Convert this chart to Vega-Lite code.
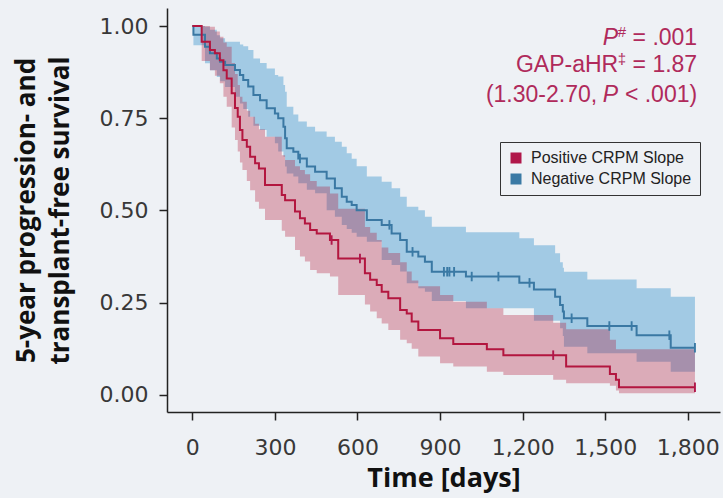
{
  "$schema": "https://vega.github.io/schema/vega-lite/v6.json",
  "width": 553,
  "height": 404,
  "autosize": {"type": "none"},
  "padding": {"left": 167, "top": 8, "right": 3, "bottom": 86},
  "background": "#eef1f5",
  "config": {
    "view": {"stroke": null},
    "axis": {
      "grid": false,
      "labelFont": "DejaVu Sans",
      "labelFontSize": 22,
      "labelColor": "#383838",
      "tickColor": "#222222",
      "tickWidth": 1.5,
      "tickSize": 8,
      "domainColor": "#222222",
      "domainWidth": 1.5,
      "titleFont": "Open Sans",
      "titleFontWeight": "bold",
      "titleFontSize": 26,
      "titleColor": "#111111"
    },
    "legend": {
      "orient": "none",
      "legendX": 333,
      "legendY": 134,
      "strokeColor": "#333333",
      "padding": 8,
      "symbolType": "square",
      "symbolSize": 121,
      "symbolStrokeWidth": 0,
      "symbolOpacity": 1,
      "labelFont": "Liberation Sans",
      "labelFontSize": 16,
      "labelColor": "#222222",
      "labelOffset": 7,
      "labelLimit": 300,
      "rowPadding": 5
    }
  },
  "datasets": {
    "km": [
      {"g": "pos", "day": 0, "s": 1.0, "lo": 1.0, "hi": 1.0},
      {"g": "pos", "day": 34, "s": 0.957, "lo": 0.905, "hi": 1.0},
      {"g": "pos", "day": 64, "s": 0.935, "lo": 0.88, "hi": 0.998},
      {"g": "pos", "day": 82, "s": 0.926, "lo": 0.865, "hi": 0.985},
      {"g": "pos", "day": 100, "s": 0.907, "lo": 0.845, "hi": 0.971},
      {"g": "pos", "day": 113, "s": 0.88, "lo": 0.808, "hi": 0.955},
      {"g": "pos", "day": 125, "s": 0.858, "lo": 0.781, "hi": 0.944},
      {"g": "pos", "day": 143, "s": 0.818, "lo": 0.725, "hi": 0.9},
      {"g": "pos", "day": 155, "s": 0.778, "lo": 0.691, "hi": 0.87},
      {"g": "pos", "day": 165, "s": 0.754, "lo": 0.66, "hi": 0.84},
      {"g": "pos", "day": 173, "s": 0.718, "lo": 0.63, "hi": 0.808},
      {"g": "pos", "day": 182, "s": 0.691, "lo": 0.61, "hi": 0.795},
      {"g": "pos", "day": 198, "s": 0.673, "lo": 0.58, "hi": 0.77},
      {"g": "pos", "day": 210, "s": 0.646, "lo": 0.555, "hi": 0.754},
      {"g": "pos", "day": 228, "s": 0.628, "lo": 0.524, "hi": 0.735},
      {"g": "pos", "day": 242, "s": 0.614, "lo": 0.505, "hi": 0.72},
      {"g": "pos", "day": 264, "s": 0.569, "lo": 0.474, "hi": 0.7},
      {"g": "pos", "day": 325, "s": 0.542, "lo": 0.445, "hi": 0.65},
      {"g": "pos", "day": 337, "s": 0.528, "lo": 0.429, "hi": 0.637},
      {"g": "pos", "day": 373, "s": 0.497, "lo": 0.393, "hi": 0.62},
      {"g": "pos", "day": 391, "s": 0.479, "lo": 0.375, "hi": 0.61},
      {"g": "pos", "day": 409, "s": 0.465, "lo": 0.362, "hi": 0.598},
      {"g": "pos", "day": 428, "s": 0.447, "lo": 0.339, "hi": 0.58},
      {"g": "pos", "day": 452, "s": 0.438, "lo": 0.33, "hi": 0.565},
      {"g": "pos", "day": 500, "s": 0.42, "lo": 0.321, "hi": 0.546},
      {"g": "pos", "day": 530, "s": 0.37, "lo": 0.271, "hi": 0.505},
      {"g": "pos", "day": 627, "s": 0.33, "lo": 0.245, "hi": 0.455},
      {"g": "pos", "day": 646, "s": 0.312, "lo": 0.226, "hi": 0.44},
      {"g": "pos", "day": 670, "s": 0.298, "lo": 0.208, "hi": 0.42},
      {"g": "pos", "day": 688, "s": 0.28, "lo": 0.194, "hi": 0.4},
      {"g": "pos", "day": 712, "s": 0.262, "lo": 0.176, "hi": 0.385},
      {"g": "pos", "day": 755, "s": 0.23, "lo": 0.15, "hi": 0.36},
      {"g": "pos", "day": 779, "s": 0.221, "lo": 0.14, "hi": 0.335},
      {"g": "pos", "day": 797, "s": 0.199, "lo": 0.125, "hi": 0.31},
      {"g": "pos", "day": 821, "s": 0.176, "lo": 0.104, "hi": 0.295},
      {"g": "pos", "day": 900, "s": 0.154, "lo": 0.086, "hi": 0.271},
      {"g": "pos", "day": 948, "s": 0.138, "lo": 0.077, "hi": 0.253},
      {"g": "pos", "day": 1070, "s": 0.124, "lo": 0.063, "hi": 0.235},
      {"g": "pos", "day": 1130, "s": 0.108, "lo": 0.054, "hi": 0.217},
      {"g": "pos", "day": 1311, "s": 0.108, "lo": 0.041, "hi": 0.196},
      {"g": "pos", "day": 1358, "s": 0.077, "lo": 0.032, "hi": 0.178},
      {"g": "pos", "day": 1517, "s": 0.057, "lo": 0.025, "hi": 0.15},
      {"g": "pos", "day": 1539, "s": 0.041, "lo": 0.012, "hi": 0.124},
      {"g": "pos", "day": 1550, "s": 0.021, "lo": 0.005, "hi": 0.124},
      {"g": "pos", "day": 1826, "s": 0.021, "lo": 0.005, "hi": 0.124},
      {"g": "neg", "day": 0, "s": 1.0, "lo": 1.0, "hi": 1.0},
      {"g": "neg", "day": 4, "s": 0.976, "lo": 0.948, "hi": 1.0},
      {"g": "neg", "day": 46, "s": 0.944, "lo": 0.899, "hi": 0.998},
      {"g": "neg", "day": 64, "s": 0.926, "lo": 0.88, "hi": 0.99},
      {"g": "neg", "day": 89, "s": 0.912, "lo": 0.862, "hi": 0.975},
      {"g": "neg", "day": 101, "s": 0.903, "lo": 0.85, "hi": 0.967},
      {"g": "neg", "day": 119, "s": 0.894, "lo": 0.835, "hi": 0.957},
      {"g": "neg", "day": 155, "s": 0.881, "lo": 0.808, "hi": 0.957},
      {"g": "neg", "day": 173, "s": 0.867, "lo": 0.79, "hi": 0.95},
      {"g": "neg", "day": 185, "s": 0.854, "lo": 0.775, "hi": 0.945},
      {"g": "neg", "day": 203, "s": 0.836, "lo": 0.754, "hi": 0.935},
      {"g": "neg", "day": 222, "s": 0.813, "lo": 0.73, "hi": 0.912},
      {"g": "neg", "day": 246, "s": 0.799, "lo": 0.718, "hi": 0.9},
      {"g": "neg", "day": 270, "s": 0.777, "lo": 0.7, "hi": 0.885},
      {"g": "neg", "day": 300, "s": 0.763, "lo": 0.682, "hi": 0.867},
      {"g": "neg", "day": 312, "s": 0.75, "lo": 0.66, "hi": 0.863},
      {"g": "neg", "day": 331, "s": 0.727, "lo": 0.646, "hi": 0.84},
      {"g": "neg", "day": 337, "s": 0.696, "lo": 0.619, "hi": 0.822},
      {"g": "neg", "day": 343, "s": 0.669, "lo": 0.6, "hi": 0.781},
      {"g": "neg", "day": 367, "s": 0.659, "lo": 0.592, "hi": 0.76},
      {"g": "neg", "day": 385, "s": 0.641, "lo": 0.574, "hi": 0.741},
      {"g": "neg", "day": 416, "s": 0.619, "lo": 0.556, "hi": 0.727},
      {"g": "neg", "day": 446, "s": 0.605, "lo": 0.547, "hi": 0.714},
      {"g": "neg", "day": 488, "s": 0.587, "lo": 0.501, "hi": 0.7},
      {"g": "neg", "day": 518, "s": 0.56, "lo": 0.483, "hi": 0.686},
      {"g": "neg", "day": 543, "s": 0.537, "lo": 0.461, "hi": 0.673},
      {"g": "neg", "day": 561, "s": 0.524, "lo": 0.45, "hi": 0.655},
      {"g": "neg", "day": 579, "s": 0.515, "lo": 0.44, "hi": 0.64},
      {"g": "neg", "day": 597, "s": 0.501, "lo": 0.429, "hi": 0.62},
      {"g": "neg", "day": 634, "s": 0.474, "lo": 0.415, "hi": 0.592},
      {"g": "neg", "day": 688, "s": 0.461, "lo": 0.366, "hi": 0.578},
      {"g": "neg", "day": 724, "s": 0.438, "lo": 0.352, "hi": 0.56},
      {"g": "neg", "day": 755, "s": 0.42, "lo": 0.335, "hi": 0.537},
      {"g": "neg", "day": 779, "s": 0.388, "lo": 0.303, "hi": 0.51},
      {"g": "neg", "day": 821, "s": 0.375, "lo": 0.289, "hi": 0.501},
      {"g": "neg", "day": 845, "s": 0.361, "lo": 0.28, "hi": 0.483},
      {"g": "neg", "day": 870, "s": 0.334, "lo": 0.255, "hi": 0.456},
      {"g": "neg", "day": 994, "s": 0.321, "lo": 0.235, "hi": 0.441},
      {"g": "neg", "day": 1188, "s": 0.304, "lo": 0.235, "hi": 0.425},
      {"g": "neg", "day": 1241, "s": 0.286, "lo": 0.201, "hi": 0.406},
      {"g": "neg", "day": 1318, "s": 0.266, "lo": 0.201, "hi": 0.384},
      {"g": "neg", "day": 1336, "s": 0.244, "lo": 0.181, "hi": 0.36},
      {"g": "neg", "day": 1346, "s": 0.226, "lo": 0.16, "hi": 0.345},
      {"g": "neg", "day": 1350, "s": 0.208, "lo": 0.131, "hi": 0.334},
      {"g": "neg", "day": 1435, "s": 0.187, "lo": 0.113, "hi": 0.313},
      {"g": "neg", "day": 1614, "s": 0.162, "lo": 0.09, "hi": 0.289},
      {"g": "neg", "day": 1738, "s": 0.128, "lo": 0.063, "hi": 0.266},
      {"g": "neg", "day": 1826, "s": 0.128, "lo": 0.063, "hi": 0.266}
    ],
    "censor": [
      {"group": "Positive CRPM Slope", "day": 506, "s": 0.42},
      {"group": "Positive CRPM Slope", "day": 609, "s": 0.37},
      {"group": "Positive CRPM Slope", "day": 1311, "s": 0.108},
      {"group": "Positive CRPM Slope", "day": 1826, "s": 0.021},
      {"group": "Negative CRPM Slope", "day": 391, "s": 0.641},
      {"group": "Negative CRPM Slope", "day": 716, "s": 0.461},
      {"group": "Negative CRPM Slope", "day": 800, "s": 0.388},
      {"group": "Negative CRPM Slope", "day": 914, "s": 0.334},
      {"group": "Negative CRPM Slope", "day": 926, "s": 0.334},
      {"group": "Negative CRPM Slope", "day": 934, "s": 0.334},
      {"group": "Negative CRPM Slope", "day": 951, "s": 0.334},
      {"group": "Negative CRPM Slope", "day": 1015, "s": 0.321},
      {"group": "Negative CRPM Slope", "day": 1112, "s": 0.321},
      {"group": "Negative CRPM Slope", "day": 1225, "s": 0.304},
      {"group": "Negative CRPM Slope", "day": 1378, "s": 0.208},
      {"group": "Negative CRPM Slope", "day": 1515, "s": 0.187},
      {"group": "Negative CRPM Slope", "day": 1596, "s": 0.187},
      {"group": "Negative CRPM Slope", "day": 1733, "s": 0.162},
      {"group": "Negative CRPM Slope", "day": 1826, "s": 0.128}
    ]
  },
  "encoding": {
    "x": {
      "field": "day",
      "type": "quantitative",
      "scale": {"domain": [-92, 1917], "nice": false, "zero": false},
      "axis": {
        "values": [0, 300, 600, 900, 1200, 1500, 1800],
        "format": ",d",
        "labelPadding": 17,
        "title": "Time [days]",
        "titleFontSize": 27,
        "titlePadding": 7
      }
    },
    "y": {
      "field": "s",
      "type": "quantitative",
      "scale": {"domain": [-0.0461, 1.0488], "nice": false, "zero": false},
      "axis": {
        "values": [0, 0.25, 0.5, 0.75, 1],
        "format": ".2f",
        "labelPadding": 11,
        "title": ["5-year progression- and", "transplant-free survival"],
        "titlePadding": 26,
        "titleLineHeight": 34
      }
    }
  },
  "layer": [
    {
      "data": {"name": "km"},
      "transform": [{"filter": "datum.g === 'neg'"}],
      "mark": {"type": "area", "interpolate": "step-after", "color": "#0a7cc3", "opacity": 0.33},
      "encoding": {"y": {"field": "hi", "type": "quantitative"}, "y2": {"field": "lo"}}
    },
    {
      "data": {"name": "km"},
      "transform": [{"filter": "datum.g === 'pos'"}],
      "mark": {"type": "area", "interpolate": "step-after", "color": "#b00a2a", "opacity": 0.3},
      "encoding": {"y": {"field": "hi", "type": "quantitative"}, "y2": {"field": "lo"}}
    },
    {
      "data": {"name": "km"},
      "transform": [{"filter": "datum.g === 'neg'"}],
      "mark": {"type": "line", "interpolate": "step-after", "color": "#3a78a3", "strokeWidth": 2}
    },
    {
      "data": {"name": "km"},
      "transform": [{"filter": "datum.g === 'pos'"}],
      "mark": {"type": "line", "interpolate": "step-after", "color": "#b3163f", "strokeWidth": 2}
    },
    {
      "data": {"name": "censor"},
      "mark": {"type": "point", "shape": "M-0.2,-1H0.2V1H-0.2Z", "filled": true, "size": 90, "opacity": 1, "strokeWidth": 0},
      "encoding": {
        "color": {
          "field": "group",
          "type": "nominal",
          "scale": {"domain": ["Positive CRPM Slope", "Negative CRPM Slope"], "range": ["#b0174a", "#3a7aa5"]},
          "legend": {"title": null}
        }
      }
    },
    {
      "data": {"values": [{"day": 1834, "s": 0.9675, "t": "= .001"}, {"day": 1834, "s": 0.8935, "t": "= 1.87"}, {"day": 1834, "s": 0.8138, "t": "< .001)"}]},
      "mark": {"type": "text", "align": "right", "baseline": "middle", "font": "Liberation Sans", "fontSize": 23, "color": "#b02a5b"},
      "encoding": {"text": {"field": "t"}}
    },
    {
      "data": {"values": [{"day": 1834, "s": 0.9675, "t": "#"}, {"day": 1834, "s": 0.8935, "t": "‡"}]},
      "mark": {"type": "text", "align": "right", "baseline": "middle", "dx": -71, "dy": -6, "font": "Liberation Sans", "fontSize": 15, "color": "#b02a5b"},
      "encoding": {"text": {"field": "t"}}
    },
    {
      "data": {"values": [{"day": 1834, "s": 0.9675, "t": "P"}, {"day": 1834, "s": 0.8138, "t": "P"}]},
      "mark": {"type": "text", "align": "right", "baseline": "middle", "dx": -79, "font": "Liberation Sans", "fontStyle": "italic", "fontSize": 23, "color": "#b02a5b"},
      "encoding": {"text": {"field": "t"}}
    },
    {
      "data": {"values": [{"day": 1834, "s": 0.8935, "t": "GAP-aHR"}]},
      "mark": {"type": "text", "align": "right", "baseline": "middle", "dx": -79, "font": "Liberation Sans", "fontSize": 23, "color": "#b02a5b"},
      "encoding": {"text": {"field": "t"}}
    },
    {
      "data": {"values": [{"day": 1834, "s": 0.8138, "t": "(1.30-2.70,"}]},
      "mark": {"type": "text", "align": "right", "baseline": "middle", "dx": -100, "font": "Liberation Sans", "fontSize": 23, "color": "#b02a5b"},
      "encoding": {"text": {"field": "t"}}
    }
  ]
}
